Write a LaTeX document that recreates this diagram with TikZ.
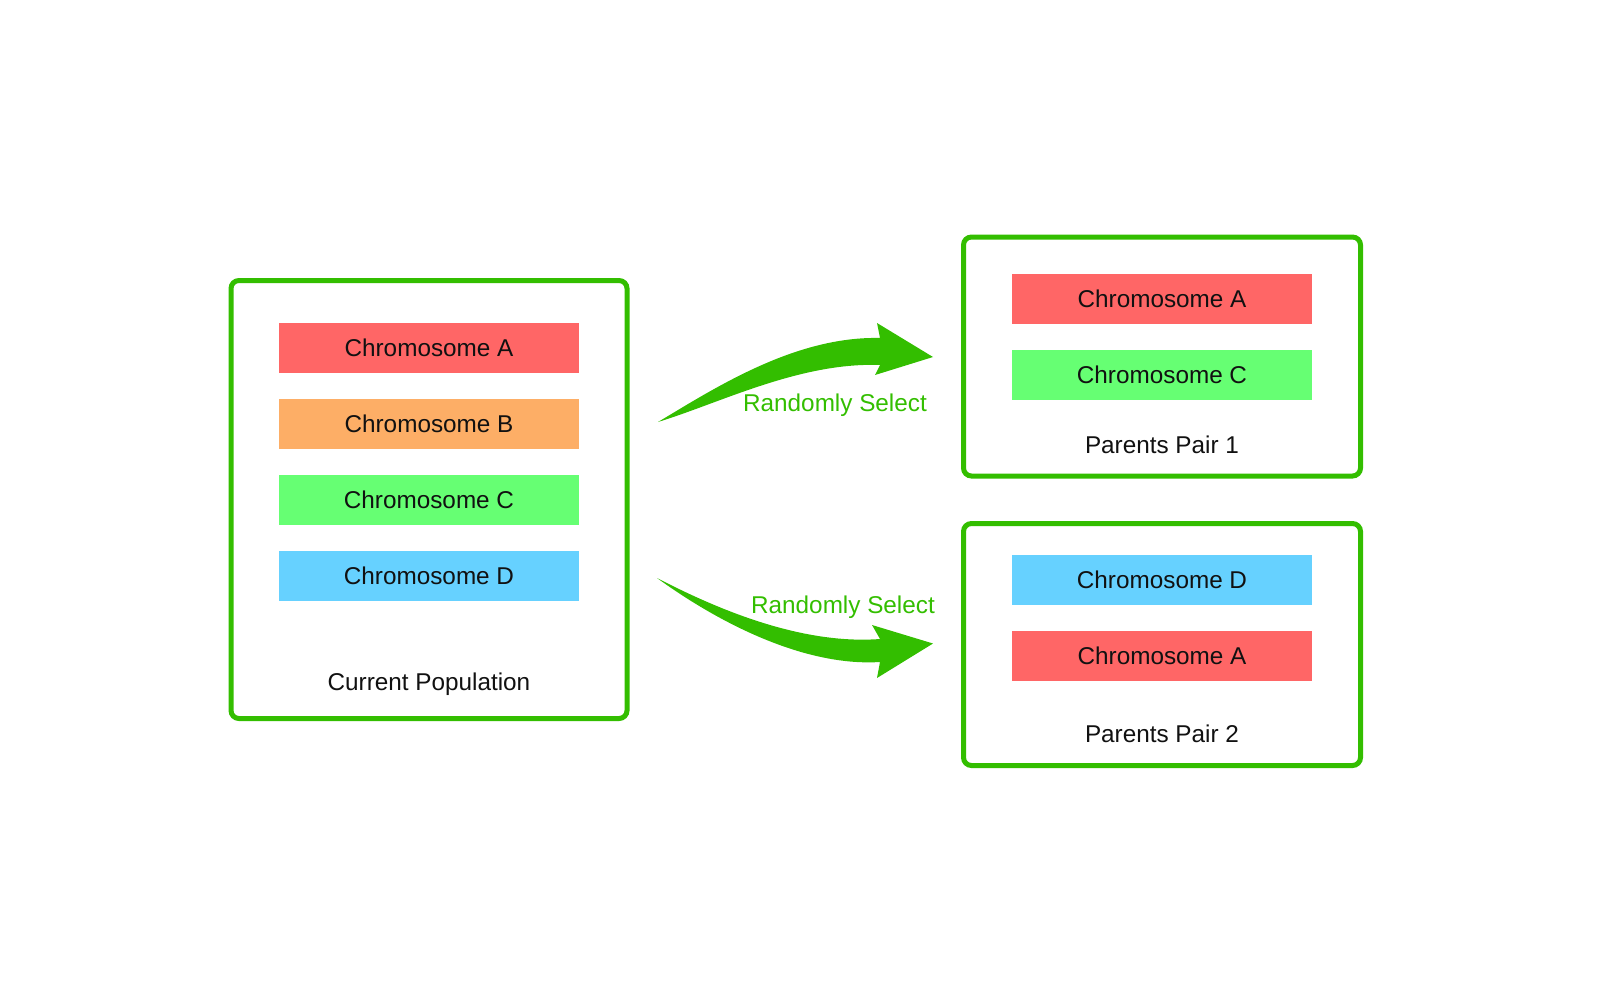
\documentclass[tikz,border=0pt]{standalone}
\usepackage{fontspec}
\setmainfont{Liberation Sans}
\definecolor{boxgreen}{HTML}{33BE00}
\definecolor{cred}{HTML}{FF6666}
\definecolor{corange}{HTML}{FDAE66}
\definecolor{cgreen}{HTML}{66FF73}
\definecolor{cblue}{HTML}{66D1FF}
\definecolor{ink}{HTML}{111111}
\tikzset{
  frame/.style={draw=boxgreen, line width=5bp, rounded corners=8bp, fill=white, inner sep=0pt},
  chrom/.style={minimum width=300bp, minimum height=50bp, inner sep=0pt, text=ink,
    font=\fontsize{24.3bp}{28bp}\selectfont},
  lbl/.style={inner sep=0pt, text=ink, font=\fontsize{24.3bp}{28bp}\selectfont},
  glbl/.style={inner sep=0pt, anchor=base, text=boxgreen, font=\fontsize{24.3bp}{28bp}\selectfont},
  bigarrow/.style={fill=boxgreen, draw=none}
}
\begin{document}
\begin{tikzpicture}[x=1bp,y=-1bp]
\useasboundingbox (0,0) rectangle (1618,1000);
% frames
\node[frame, minimum width=396bp, minimum height=438bp] (pop) at (429,499.5) {};
\node[frame, minimum width=397bp, minimum height=239bp] (pp1) at (1162,356.5) {};
\node[frame, minimum width=397bp, minimum height=242bp] (pp2) at (1162,644.5) {};
% current population
\node[chrom, fill=cred]    (pa) at (429,348) {Chromosome A};
\node[chrom, fill=corange] (pb) at (429,424) {Chromosome B};
\node[chrom, fill=cgreen]  (pc) at (429,500) {Chromosome C};
\node[chrom, fill=cblue]   (pd) at (429,576) {Chromosome D};
\node[lbl] (poplbl) at (429,684) {Current Population};
% parents pair 1
\node[chrom, fill=cred]   (p1a) at (1162,299) {Chromosome A};
\node[chrom, fill=cgreen] (p1c) at (1162,375) {Chromosome C};
\node[lbl] (p1lbl) at (1162,445) {Parents Pair 1};
% parents pair 2
\node[chrom, fill=cblue] (p2d) at (1162,580) {Chromosome D};
\node[chrom, fill=cred]  (p2a) at (1162,656) {Chromosome A};
\node[lbl] (p2lbl) at (1162,734) {Parents Pair 2};
% arrow 1
\coordinate (t1) at (658,422);
\coordinate (h1) at (933,357);
\fill[bigarrow] (t1) .. controls (715,388) and (795,336) .. (880,338)
  -- (877,323) -- (h1) -- (875,375) -- (880,365)
  .. controls (800,362) and (720,403) .. (t1) -- cycle;
\node[glbl] (sel1) at (835,411) {Randomly Select};
% arrow 2
\coordinate (t2) at (657,578);
\coordinate (h2) at (933,643.5);
\fill[bigarrow] (t2) .. controls (715,608) and (800,645) .. (880,639)
  -- (872,625) -- (h2) -- (877,678) -- (880,662)
  .. controls (800,667) and (712,618) .. (t2) -- cycle;
\node[glbl] (sel2) at (843,613) {Randomly Select};
\end{tikzpicture}
\end{document}
